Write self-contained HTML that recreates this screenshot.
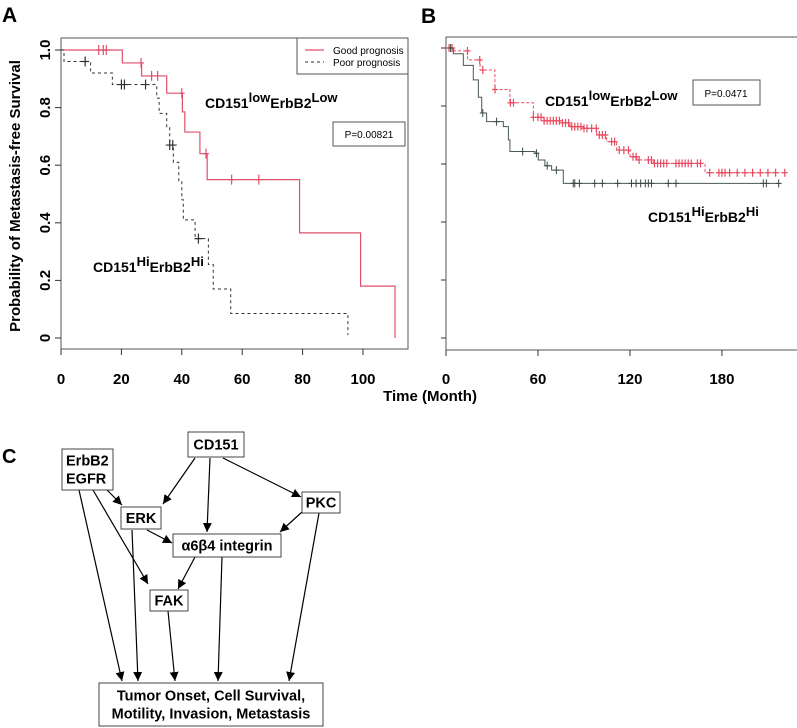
<!DOCTYPE html>
<html><head><meta charset="utf-8">
<style>
html,body{margin:0;padding:0;background:#fff;}
svg{display:block;font-family:"Liberation Sans",Arial,sans-serif;}
.b{font-weight:bold;}
</style></head>
<body>
<svg id="fig" width="797" height="728" viewBox="0 0 797 728" xmlns="http://www.w3.org/2000/svg">
<g id="pa"></g>
<g id="pb"></g>
<g id="pc"></g>
</svg>
<script>
// ---------- Panel A data ----------
const goodStepT = [0, 20.3, 26.7, 35, 40.2, 41, 46, 48.4, 79, 99.2, 110.6];
const goodStepS = [1, 0.955, 0.91, 0.85, 0.785, 0.715, 0.64, 0.55, 0.365, 0.18, 0];
const goodCensorT = [12.5, 14, 15, 26.5, 30, 32, 40, 48, 56.5, 65.5];
const poorStepT = [0, 1, 9.8, 17, 31.7, 32.5, 35, 36, 37.2, 39, 40, 40.5, 44.4, 48.8, 50.4, 56.2, 95];
const poorStepS = [1, 0.96, 0.92, 0.88, 0.833, 0.78, 0.73, 0.67, 0.61, 0.545, 0.48, 0.41, 0.345, 0.255, 0.17, 0.085, 0.01];
const poorCensorT = [8, 20, 21, 28, 36, 37, 45.5];
const aXTicks = [0, 20, 40, 60, 80, 100];
const aYTicks = [0, 0.2, 0.4, 0.6, 0.8, 1.0];
const aYTickLabels = ["0", "0.2", "0.4", "0.6", "0.8", "1.0"];
// ---------- Panel B data ----------
const bLowT = [0, 5, 14.1, 22.2, 31.9, 41.7, 57, 63.5, 74.3, 80.9, 89.6, 98.3, 104.8, 111.3, 120, 124.4, 135.2, 169];
const bLowS = [1, 0.99, 0.959, 0.924, 0.857, 0.811, 0.761, 0.749, 0.742, 0.729, 0.723, 0.70, 0.677, 0.648, 0.625, 0.614, 0.602, 0.57];
const bLowEnd = 221;
const bLowCensorT = [2,4,14,22,24,32,42,44,57,60,62,64,66,68,70,72,74,76,78,80,82,84,86,88,90,92,95,98,100,102,104,108,110,113,116,119,122,124,126,132,134,136,138,140,142,144,150,152,154,156,158,160,164,166,172,178,180,182,185,190,195,200,205,210,215,221];
const bHiT = [0, 4.8, 11.3, 17.8, 21.1, 23.3, 26.5, 37.4, 40.7, 41.7, 58, 60.2, 64.5, 68.9, 76.5];
const bHiS = [1, 0.98, 0.94, 0.89, 0.83, 0.776, 0.746, 0.729, 0.683, 0.643, 0.637, 0.614, 0.594, 0.579, 0.533];
const bHiEnd = 217.7;
const bHiCensorT = [3,24,33,50,59,66,72,83,84,87,97,102,112,121,124,127,130,132,134,145,150,207,209,217];
const bXTicks = [0, 60, 120, 180];

const NS = "http://www.w3.org/2000/svg";
function mk(parent, tag, attrs, text){
  const e = document.createElementNS(NS, tag);
  for (const k in attrs) e.setAttribute(k, attrs[k]);
  if (text !== undefined) e.textContent = text;
  parent.appendChild(e);
  return e;
}
function stepAt(T, S, t){ let s = S[0]; for (let i=0;i<T.length;i++){ if (T[i] <= t) s = S[i]; } return s; }
function stepPath(T, S, end, fx, fy){
  let d = "M" + fx(T[0]) + "," + fy(S[0]);
  for (let i=1;i<T.length;i++){ d += " H" + fx(T[i]) + " V" + fy(S[i]); }
  if (end !== null) d += " H" + fx(end);
  return d;
}

// ---------- Panel A ----------
const pa = document.getElementById('pa');
const ax = t => 61 + t*3.02;
const ay = v => 50 + (1-v)*288;
let t;
t = mk(pa,'text',{x:2,y:22,'font-size':21,'class':'b'},'A');
 
let r = mk(pa,'rect',{x:61,y:38,width:347,height:311,fill:'none',stroke:'#555','stroke-width':1});
 
aXTicks.forEach(v=>{
  const l = mk(pa,'line',{x1:ax(v),x2:ax(v),y1:349,y2:355,stroke:'#333'});
   
  const tx = mk(pa,'text',{x:ax(v),y:384,'font-size':15,'class':'b','text-anchor':'middle'},String(v));
   
});
aYTicks.forEach((v,i)=>{
  const l = mk(pa,'line',{x1:55,x2:61,y1:ay(v),y2:ay(v),stroke:'#333'});
   
  const tx = mk(pa,'text',{x:0,y:0,'font-size':15,'class':'b','text-anchor':'middle',transform:`translate(50,${ay(v)}) rotate(-90)`},aYTickLabels[i]);
   
});
t = mk(pa,'text',{x:0,y:0,'font-size':15,'class':'b','text-anchor':'middle',transform:'translate(20,196) rotate(-90)'},'Probability of Metastasis-free Survival');
 
let p = mk(pa,'path',{d:stepPath(goodStepT,goodStepS,null,ax,ay),fill:'none',stroke:'#e0506a','stroke-width':1.2});
 
p = mk(pa,'path',{d:stepPath(poorStepT,poorStepS,null,ax,ay),fill:'none',stroke:'#333','stroke-width':1,'stroke-dasharray':'3,3'});
 
goodCensorT.forEach(c=>{
  const y = ay(stepAt(goodStepT,goodStepS,c));
  const l = mk(pa,'path',{d:`M${ax(c)},${y-5}V${y+5}M${ax(c)-3},${y}H${ax(c)+3}`,stroke:'#e0506a','stroke-width':1.2});
   
});
poorCensorT.forEach(c=>{
  const y = ay(stepAt(poorStepT,poorStepS,c));
  const l = mk(pa,'path',{d:`M${ax(c)},${y-5}V${y+5}M${ax(c)-4},${y}H${ax(c)+4}`,stroke:'#333','stroke-width':1.2});
   
});
r = mk(pa,'rect',{x:297,y:38,width:111,height:36,fill:'#fff',stroke:'#555'});
 
let lg = mk(pa,'line',{x1:305,x2:324,y1:50,y2:50,stroke:'#e0506a','stroke-width':1.2});
 
lg = mk(pa,'line',{x1:305,x2:324,y1:62,y2:62,stroke:'#333','stroke-dasharray':'3,3'});
 
t = mk(pa,'text',{x:333,y:54,'font-size':10},'Good prognosis');
 
t = mk(pa,'text',{x:333,y:66,'font-size':10},'Poor prognosis');
 
r = mk(pa,'rect',{x:333,y:122,width:72,height:24,fill:'#fff',stroke:'#555'});
 
t = mk(pa,'text',{x:369,y:138,'font-size':10,'text-anchor':'middle'},'P=0.00821');
 
function groupLabel(parent,x,y,a,b,name){
  const e = mk(parent,'text',{x:x,y:y,'font-size':14,'class':'b'});
   
  e.innerHTML = `CD151<tspan dy="-6" font-size="13">${a}</tspan><tspan dy="6">ErbB2</tspan><tspan dy="-6" font-size="13">${b}</tspan>`;
}
groupLabel(pa,205,108,'low','Low','a-low-group-label');
groupLabel(pa,93,272,'Hi','Hi','a-hi-group-label');
t = mk(pa,'text',{x:430,y:401,'font-size':15,'class':'b','text-anchor':'middle'},'Time (Month)');
 

// ---------- Panel B ----------
const pb = document.getElementById('pb');
const bx = m => 446 + m*1.533;
const by = v => 48 + (1-v)*290;
t = mk(pb,'text',{x:421,y:23,'font-size':21,'class':'b'},'B');
 
p = mk(pb,'path',{d:'M800,37 H446 V350 H800',fill:'none',stroke:'#555'});
 
bXTicks.forEach(v=>{
  const l = mk(pb,'line',{x1:bx(v),x2:bx(v),y1:350,y2:356,stroke:'#333'});
   
  const tx = mk(pb,'text',{x:bx(v),y:384,'font-size':15,'class':'b','text-anchor':'middle'},String(v));
   
});
aYTicks.forEach(v=>{
  const l = mk(pb,'line',{x1:441,x2:446,y1:by(v),y2:by(v),stroke:'#333'});
   
});
p = mk(pb,'path',{d:stepPath(bLowT,bLowS,bLowEnd,bx,by),fill:'none',stroke:'#e84a5f','stroke-width':1,'stroke-dasharray':'3,2'});
 
p = mk(pb,'path',{d:stepPath(bHiT,bHiS,bHiEnd,bx,by),fill:'none',stroke:'#4a5a50','stroke-width':1});
 
bLowCensorT.forEach(c=>{
  const y = by(stepAt(bLowT,bLowS,c)), x = bx(c);
  const l = mk(pb,'path',{d:`M${x},${y-4}V${y+4}M${x-3},${y}H${x+3}`,stroke:'#e84a5f','stroke-width':1.2});
   
});
bHiCensorT.forEach(c=>{
  const y = by(stepAt(bHiT,bHiS,c)), x = bx(c);
  const l = mk(pb,'path',{d:`M${x},${y-4}V${y+4}M${x-3},${y}H${x+3}`,stroke:'#3a4a40','stroke-width':1});
   
});
r = mk(pb,'rect',{x:693,y:80,width:67,height:25,fill:'#fff',stroke:'#555'});
 
t = mk(pb,'text',{x:726,y:97,'font-size':10,'text-anchor':'middle'},'P=0.0471');
 
groupLabel(pb,545,106,'low','Low','b-low-group-label');
groupLabel(pb,648,222,'Hi','Hi','b-hi-group-label');

// ---------- Panel C ----------
const pc = document.getElementById('pc');
mk(pc,'defs',{}).innerHTML = '<marker id="ah" viewBox="0 0 10 10" refX="10" refY="5" markerWidth="9" markerHeight="9" markerUnits="userSpaceOnUse" orient="auto"><path d="M0,0 L10,5 L0,10 z" fill="#000"/></marker>';
t = mk(pc,'text',{x:2,y:463,'font-size':20,'class':'b'},'C');
 
const arrows = [
  [79,490,122,681,'erbb2-to-outcome'],[107,490,122,505,'erbb2-to-erk'],[93,490,148,584,'erbb2-to-fak'],
  [195,458,163,504,'cd151-to-erk'],[210,458,207,532,'cd151-to-integrin'],[223,458,301,497,'cd151-to-pkc'],
  [302,512,280,532,'pkc-to-integrin'],[147,530,172,543,'erk-to-integrin'],[132,530,138,681,'erk-to-outcome'],
  [195,557,178,589,'integrin-to-fak'],[222,557,218,681,'integrin-to-outcome'],[168,611,175,681,'fak-to-outcome'],
  [319,513,289,681,'pkc-to-outcome']
];
arrows.forEach(a=>{
  const l = mk(pc,'line',{x1:a[0],y1:a[1],x2:a[2],y2:a[3],stroke:'#000','stroke-width':1.2,'marker-end':'url(#ah)'});
   
});
const boxes = [
  [188,432,56,25,['CD151'],'cd151-node'],
  [62,449,51,41,['ErbB2','EGFR'],'erbb2-egfr-node'],
  [121,507,40,22,['ERK'],'erk-node'],
  [302,492,38,21,['PKC'],'pkc-node'],
  [173,534,108,23,['\u03b16\u03b24 integrin'],'integrin-node'],
  [150,590,38,21,['FAK'],'fak-node'],
  [99,683,224,43,['Tumor Onset, Cell Survival,','Motility, Invasion, Metastasis'],'outcome-node']
];
boxes.forEach(b=>{
  const g = mk(pc,'g',{});
   
  mk(g,'rect',{x:b[0],y:b[1],width:b[2],height:b[3],fill:'#fff',stroke:'#444','stroke-width':1});
  const n = b[4].length, lh = 18, cy = b[1]+b[3]/2;
  b[4].forEach((s,i)=>{
    const center = b[4].length>1 && b[5]!=='outcome-node' ? false : true;
    const x = center ? b[0]+b[2]/2 : b[0]+4;
    mk(g,'text',{x:x,y:cy+(i-(n-1)/2)*lh+5,'font-size':14.5,'class':'b','text-anchor':center?'middle':'start'},s);
  });
});
</script>
</body></html>
